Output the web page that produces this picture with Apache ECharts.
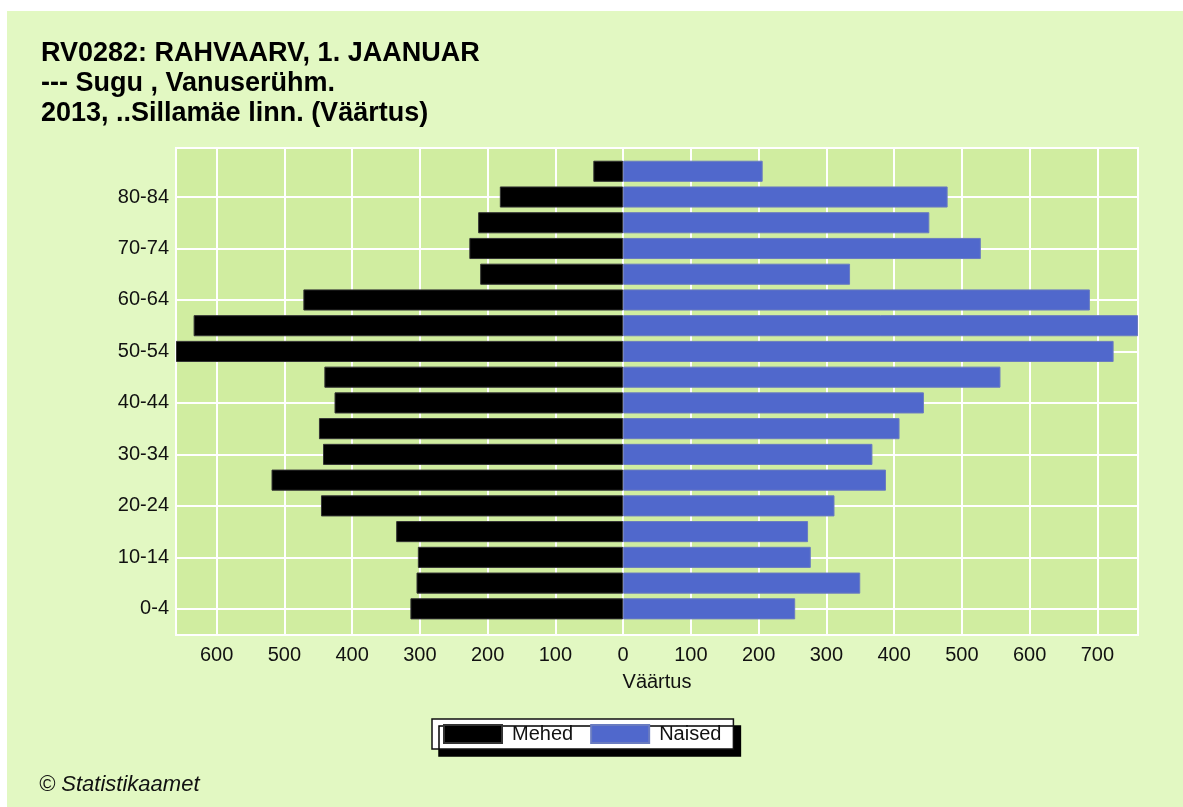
<!DOCTYPE html>
<html>
<head>
<meta charset="utf-8">
<script src="https://cdn.jsdelivr.net/npm/echarts@6/dist/echarts.min.js"></script>
<style>
  html, body { margin: 0; padding: 0; background: #fff; }
  #main { position: absolute; left: 7px; top: 11px; width: 1176px; height: 796px; }
</style>
</head>
<body>
<div id="main"></div>
<script type="text/javascript">
// vanuserühmad alt üles
var ageGroups = ['0-4', '5-9', '10-14', '15-19', '20-24', '25-29', '30-34', '35-39', '40-44',
  '45-49', '50-54', '55-59', '60-64', '65-69', '70-74', '75-79', '80-84', '85+'];
var mehed = [314, 305, 303, 335, 446, 519, 443, 449, 426, 441, 660, 634, 472, 211, 227, 214, 182, 44];
var naised = [254, 350, 277, 273, 312, 388, 368, 408, 444, 557, 724, 760, 689, 335, 528, 452, 479, 206];
var xMin = -660;
var xMax = 760;

var font = 'Arial, "Liberation Sans", sans-serif';
var chart = echarts.init(document.getElementById('main'), null, { renderer: 'canvas' });

chart.setOption({
  backgroundColor: '#e2f8c2',
  animation: false,
  title: {
    text: 'RV0282: RAHVAARV, 1. JAANUAR\n--- Sugu , Vanuserühm.\n2013, ..Sillamäe linn. (Väärtus)',
    left: 34,
    top: 27.5,
    padding: 0,
    textStyle: { fontFamily: font, fontSize: 27, fontWeight: 'bold', color: '#000', lineHeight: 30 }
  },
  legend: {
    data: ['Mehed', 'Naised'],
    left: 425,
    top: 708,
    orient: 'horizontal',
    itemWidth: 58,
    itemHeight: 18,
    itemGap: 17,
    padding: [5, 12, 5, 11],
    backgroundColor: '#fff',
    borderColor: '#111',
    borderWidth: 1.5,
    shadowColor: '#000',
    shadowBlur: 0,
    shadowOffsetX: 7,
    shadowOffsetY: 7,
    icon: 'rect',
    textStyle: { fontFamily: font, fontSize: 20, color: '#111', lineHeight: 18, padding: [0, 0, 0, 5] }
  },
  graphic: [{
    type: 'text',
    left: 32,
    top: 763,
    style: { text: '© Statistikaamet', font: 'italic 22px ' + font, fill: '#111' }
  }],
  grid: [{
    // taust ja raam
    left: 169,
    right: 45,
    top: 137,
    bottom: 172,
    show: true,
    backgroundColor: '#d0eda0',
    borderColor: '#fff',
    borderWidth: 2
  }, {
    // tulbad
    left: 169,
    right: 45,
    top: 147.4,
    bottom: 185.3
  }],
  xAxis: [{
    gridIndex: 0,
    type: 'value',
    min: xMin,
    max: xMax,
    minInterval: 100,
    maxInterval: 100,
    splitNumber: 14,
    name: 'Väärtus',
    nameLocation: 'middle',
    nameGap: 37,
    nameTextStyle: { fontFamily: font, fontSize: 20, color: '#111' },
    axisLine: { show: false },
    axisTick: { show: false },
    axisLabel: {
      fontFamily: font, fontSize: 20, color: '#111', margin: 10,
      showMinLabel: false, showMaxLabel: false,
      formatter: function (v) { return Math.abs(v); }
    },
    splitLine: { show: true, lineStyle: { color: '#fff', width: 2 } }
  }, {
    gridIndex: 1,
    type: 'value',
    min: xMin,
    max: xMax,
    show: false
  }],
  yAxis: [{
    gridIndex: 0,
    type: 'value',
    show: false
  }, {
    gridIndex: 1,
    type: 'category',
    data: ageGroups,
    axisLine: { show: false },
    axisTick: { show: false, alignWithLabel: true },
    axisLabel: { interval: 1, fontFamily: font, fontSize: 20, color: '#111', margin: 7 },
    splitLine: { show: true, interval: 1, alignWithLabel: true, lineStyle: { color: '#fff', width: 2 } }
  }],
  series: [{
    name: 'Mehed',
    type: 'bar',
    xAxisIndex: 1,
    yAxisIndex: 1,
    stack: 'pyramid',
    barCategoryGap: '18%',
    itemStyle: { color: '#000', borderColor: '#333', borderWidth: 1 },
    data: mehed.map(function (v) { return -v; })
  }, {
    name: 'Naised',
    type: 'bar',
    xAxisIndex: 1,
    yAxisIndex: 1,
    stack: 'pyramid',
    barCategoryGap: '18%',
    itemStyle: { color: '#5068cc', borderColor: '#6a7cc0', borderWidth: 1 },
    data: naised
  }]
});
</script>
</body>
</html>
